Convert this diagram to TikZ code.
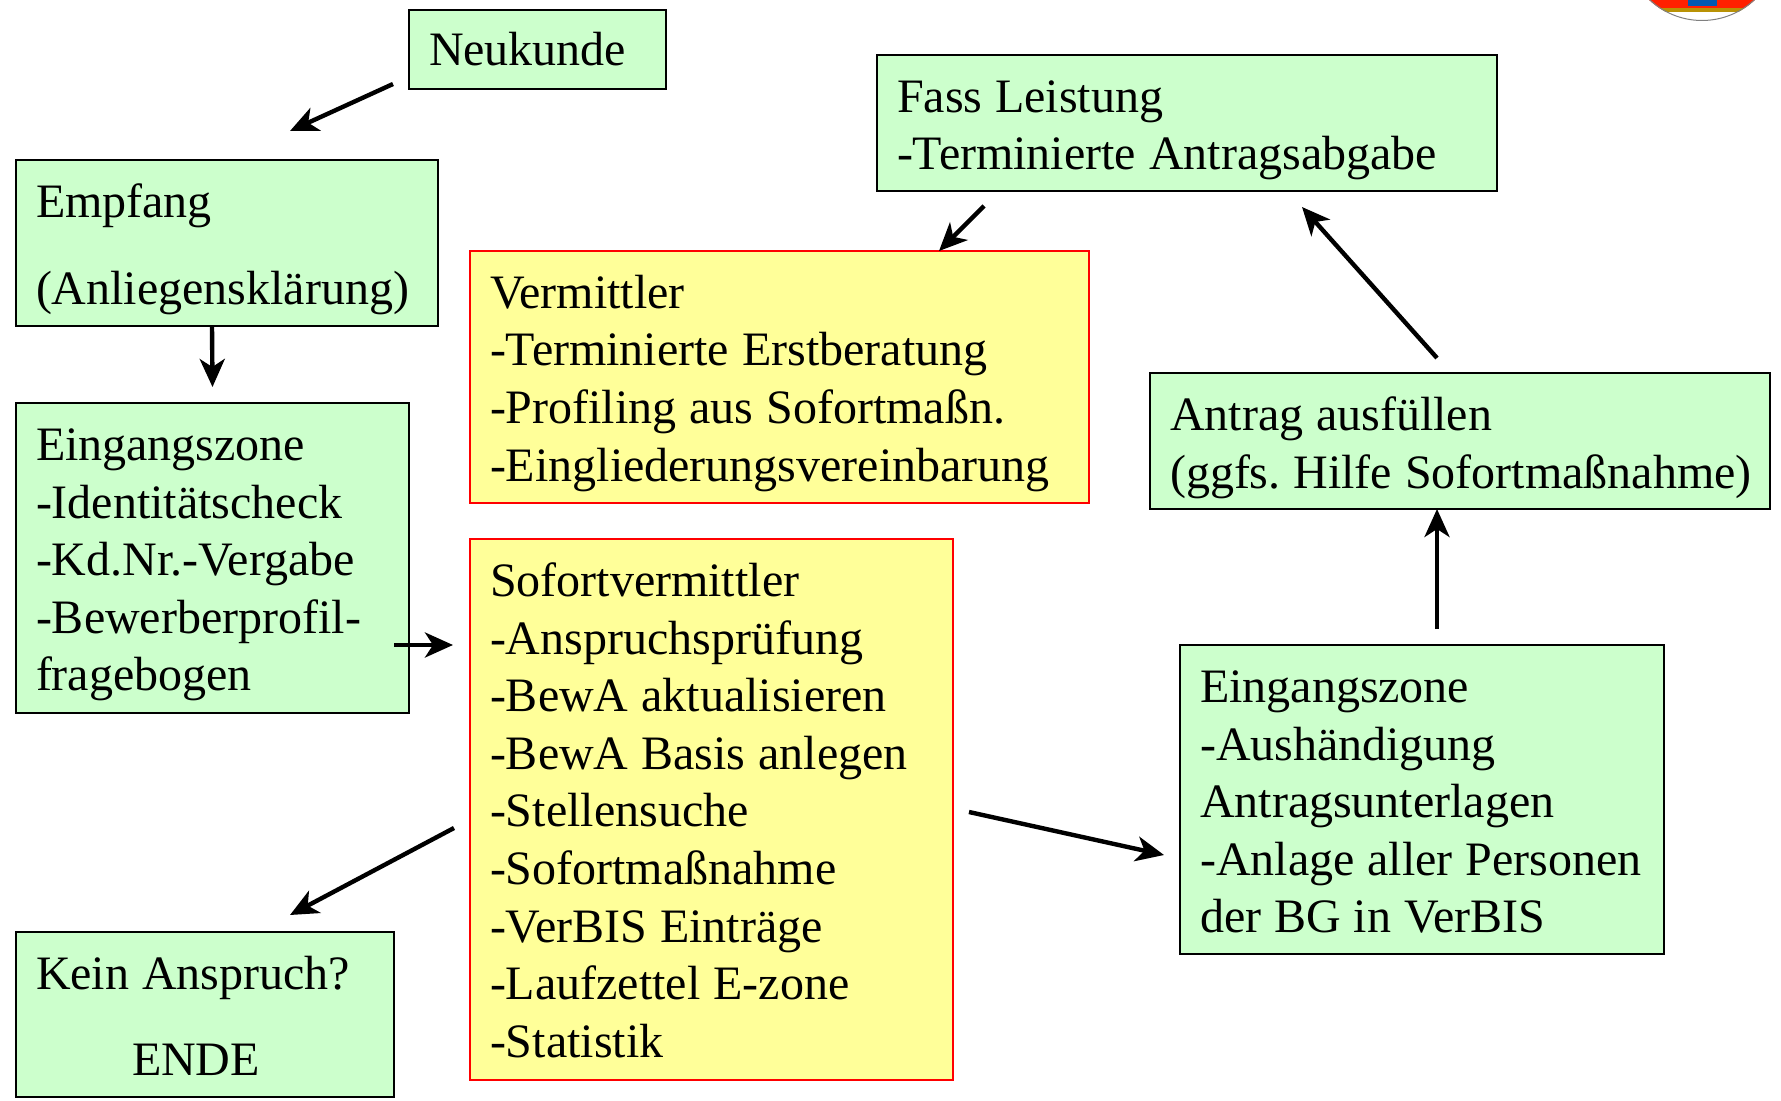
\documentclass[tikz,border=0pt]{standalone}
\usepackage{fontspec}
\setmainfont{Liberation Serif}
\usepackage{xcolor}
\usetikzlibrary{calc, positioning, arrows.meta}
\definecolor{boxgreen}{HTML}{CCFFCC}
\definecolor{boxyellow}{HTML}{FFFF99}
\tikzset{
    greenbox/.style={rectangle, draw=black, line width=0.8pt, fill=boxgreen, align=left, outer sep=0pt, inner xsep=10pt, inner ysep=0pt, text height=28.7pt, font=\fontsize{24}{28.8}\selectfont, execute at begin node={\frenchspacing\spaceskip=6.5pt\hyphenpenalty=10000\relax}},
    yellowbox/.style={greenbox, draw=red, fill=boxyellow},
    arrow/.style={-{Stealth[length=14pt, width=12.5pt, inset=4pt]}, line width=2.2pt}
}
\begin{document}
\begin{tikzpicture}[x=1pt, y=1pt]
        \useasboundingbox (0,0) rectangle (890.5,-550.5);
        % crest, cut off by the page edge
        \begin{scope}
            \clip (0,0) rectangle (890.5,-550.5);
            \clip (851,28) circle (38.5);
            \fill[white] (810,0) rectangle (890,-12);
            \fill[red!75!orange] (810,0) rectangle (890,-4);
            \fill[olive!60!orange] (810,-4) rectangle (890,-6);
            \fill[blue!50!cyan!70!black] (844,0) rectangle (858.5,-3);
            \draw[gray, line width=1pt] (851,28) circle (38.5);
        \end{scope}

        \node[greenbox, minimum width=128.5pt, text height=27.7pt, text depth=11.8pt, text width=108.5pt, anchor=north west] (neukunde) at (204.5,-5) {Neukunde};
        \node[greenbox, minimum width=211pt, text depth=54.3pt, text width=191pt, anchor=north west] (empfang) at (8,-80) {Empfang\\[15pt](Anliegensklärung)};
        \node[greenbox, below=38.5pt of empfang.south west, anchor=north west, minimum width=196.5pt, text depth=126.3pt, text width=176.5pt] (eingangL) {Eingangszone\\-Identitätscheck\\-Kd.Nr.-Vergabe\\-Bewerberprofil-\\fragebogen};
        \node[greenbox, below=109.5pt of eingangL.south west, anchor=north west, minimum width=189pt, text depth=53.8pt, text width=169pt] (kein) {Kein Anspruch?\\[14pt]\hspace*{48pt}ENDE};

        \node[yellowbox, minimum width=309.5pt, text depth=97.3pt, text width=289.5pt, anchor=north west] (vermittler) at (235,-125.5) {Vermittler\\-Terminierte Erstberatung\\-Profiling aus Sofortmaßn.\\-Eingliederungsvereinbarung};
        \node[yellowbox, below=18pt of vermittler.south west, anchor=north west, minimum width=241.5pt, text depth=241.8pt, text width=221.5pt] (sofort) {Sofortvermittler\\-Anspruchsprüfung\\-BewA aktualisieren\\-BewA Basis anlegen\\-Stellensuche\\-Sofortmaßnahme\\-VerBIS Einträge\\-Laufzettel E-zone\\-Statistik};

        \node[greenbox, minimum width=310pt, text depth=39.3pt, text width=290pt, anchor=north west] (fass) at (438.5,-27.5) {Fass Leistung\\-Terminierte Antragsabgabe};
        \node[greenbox, minimum width=310pt, text depth=39.3pt, text width=290pt, anchor=north west] (antrag) at (575,-186.5) {Antrag ausfüllen\\\mbox{(ggfs. Hilfe Sofortmaßnahme)}};
        \node[greenbox, below=68pt of antrag.south west, anchor=north west, xshift=15pt, minimum width=242pt, text depth=125.8pt, text width=222pt] (eingangR) {Eingangszone\\-Aushändigung\\Antragsunterlagen\\-Anlage aller Personen\\der BG in VerBIS};

        \draw[arrow] ($(neukunde.south west)+(-8,2.5)$) -- ($(empfang.north)+(31.5,14.5)$);
        \draw[arrow] ($(empfang.south)+(-7.5,0)$) -- ($(eingangL.north)+(0,8)$);
        \draw[arrow] ($(eingangL.south east)+(-7.5,34)$) -- ($(sofort.north west)+(-8.5,-53)$);
        \draw[arrow] ($(sofort.west)+(-8,-9.25)$) -- ($(kein.north)+(42.5,8.5)$);
        \draw[arrow] ($(sofort.east)+(8,-1.25)$) -- ($(eingangR.west)+(-8,-27.75)$);
        \draw[arrow] ($(eingangR.north)+(7.5,8)$) -- ($(antrag.south)+(-11.5,0)$);
        \draw[arrow] ($(antrag.north)+(-11.5,7.5)$) -- ($(fass.south east)+(-97.5,-8)$);
        \draw[arrow] ($(fass.south west)+(53.5,-7.5)$) -- ($(vermittler.north)+(79.75,0)$);
    \end{tikzpicture}
\end{document}
